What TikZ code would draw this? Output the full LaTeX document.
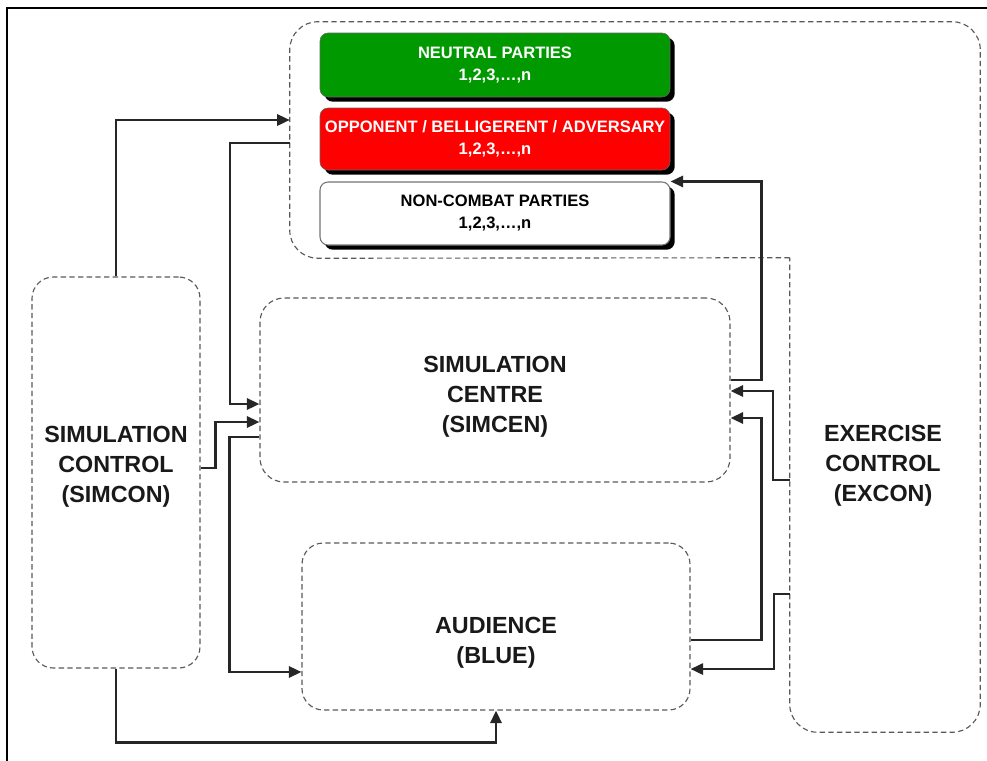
\documentclass[tikz,border=0pt]{standalone}
\usepackage{fontspec}
\setmainfont{Liberation Sans}
\usetikzlibrary{arrows.meta,shadows}
\begin{document}
\begin{tikzpicture}[x=0.75pt,y=-0.75pt,
  dbox/.style={draw=black!65, dash pattern=on 4pt off 2.5pt, line width=0.85pt, rounded corners=#1, inner sep=0pt},
  ghost/.style={inner sep=0pt, draw=none},
  party/.style={rounded corners=6pt, inner sep=0pt, minimum width=262.5pt, align=center,
    font=\fontsize{12.4}{16.5}\selectfont\bfseries,
    drop shadow={shadow xshift=3.5pt,shadow yshift=-3.5pt,fill=black,opacity=1}},
  big/.style={font=\fontsize{17.5}{22.5}\selectfont\bfseries, align=center, text=black!90, inner sep=0pt},
  conn/.style={draw=black!85, line width=1.8pt},
  arr/.style={conn, -{Triangle[length=9.5pt,width=8.5pt]}},
]
\useasboundingbox (0,0) rectangle (987,760);
\begin{scope}
\clip (0,0) rectangle (987,760);
\draw[line width=1.8pt] (7,8) rectangle (1010,790);
\end{scope}

% invisible anchors for the combined container / EXCON outline
\node[ghost, minimum width=517.5pt, minimum height=177pt] (ctr) at (635,140) {};
\node[ghost, minimum width=142.5pt, minimum height=355.5pt] (excon) at (885,495) {};
\draw[draw=black!65, dash pattern=on 4pt off 2.5pt, line width=0.85pt, rounded corners=21pt]
  (excon.north west) -- (ctr.south west) -- (ctr.north west) -- (ctr.north east)
  -- (excon.south east) -- (excon.south west) -- (excon.north west);
\node[big] (excontxt) at (883,466) {EXERCISE\\CONTROL\\(EXCON)};

% party boxes
\node[party, fill={rgb,255:red,0;green,153;blue,0}, draw=black!60, text=white, minimum height=48pt] (neutral) at (495,65) {NEUTRAL PARTIES\\1,2,3,…,n};
\node[party, fill=red, draw=black!60, text=white, minimum height=46.5pt] (opp) at (495,139) {OPPONENT / BELLIGERENT / ADVERSARY\\1,2,3,…,n};
\node[party, fill=white, draw=black!55, line width=0.8pt, text=black, minimum height=47.25pt] (noncomb) at (495,213.5) {NON-COMBAT PARTIES\\1,2,3,…,n};

% main boxes
\node[dbox=16pt, minimum width=126pt, minimum height=293.25pt] (simcon) at (116,472.5) {};
\node[big] (simcontxt) at (116,467) {SIMULATION\\CONTROL\\(SIMCON)};
\node[dbox=18pt, minimum width=352.5pt, minimum height=138pt] (simcen) at (495,390) {};
\node[big] (simcentxt) at (495,397) {SIMULATION\\CENTRE\\(SIMCEN)};
\node[dbox=16pt, minimum width=291pt, minimum height=125.25pt] (aud) at (496,626.5) {};
\node[big] (audtxt) at (496,643) {AUDIENCE\\(BLUE)};

% connectors
\draw[arr] (simcon.north) |- ([yshift=15pt]ctr.west);
\draw[arr] ([yshift=-2.25pt]ctr.west) -- ++(-60,0) |- ([yshift=-10.5pt]simcen.west);
\draw[arr] ([yshift=3.4pt]simcon.east) -- ++(15,0) |- ([yshift=-24pt]simcen.west);
\draw[arr] ([yshift=-35.25pt]simcen.west) -- ++(-30,0) |- ([yshift=-34.1pt]aud.west);
\draw[arr] (simcon.south) -- ++(0,74) -| (aud.south);
\draw[arr] ([yshift=7.5pt]simcen.east) -- ++(31,0) |- (noncomb.north east);
\draw[arr] ([yshift=11.25pt]excon.west) -- ++(-17,0) |- ([yshift=-0.75pt]simcen.east);
\draw[arr] ([yshift=-10.1pt]aud.east) -- ++(71,0) |- ([yshift=-21pt]simcen.east);
\draw[arr] ([yshift=-74.25pt]excon.west) -- ++(-16,0) |- ([yshift=-31.9pt]aud.east);
\end{tikzpicture}
\end{document}
